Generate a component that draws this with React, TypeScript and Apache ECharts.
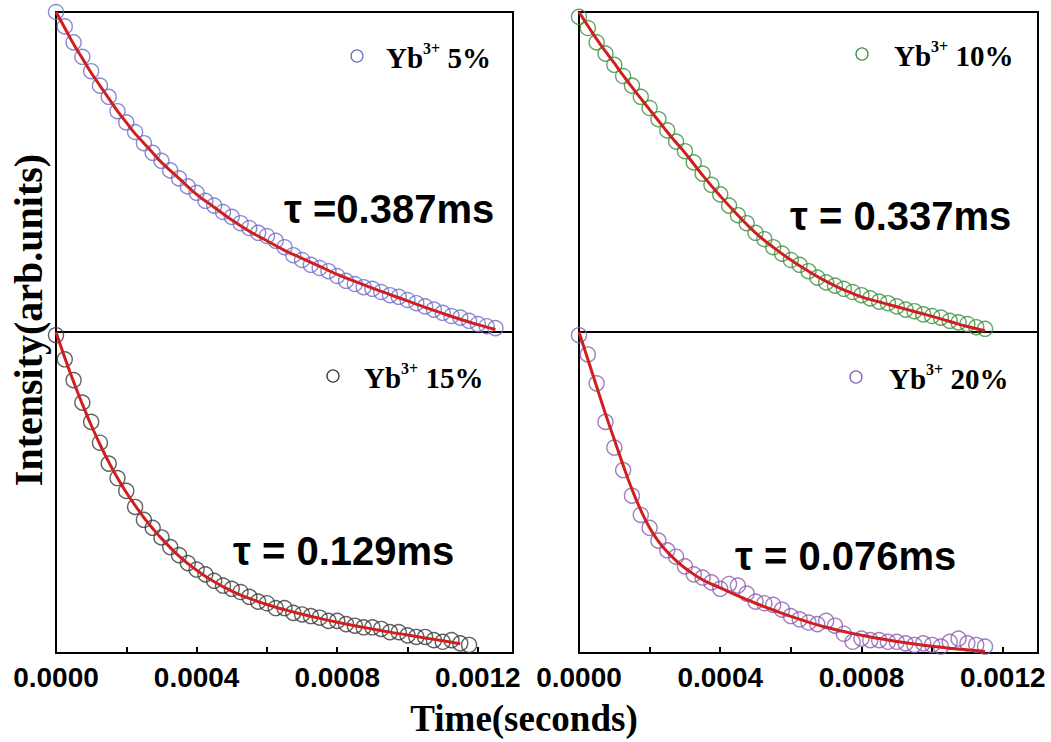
import React, { useEffect, useRef } from "react";
import * as echarts from "echarts";

// Sampling grid of the measured decay (microseconds)
const TIME_US = [
  0, 25, 50, 75, 100, 125, 150, 175, 200, 225, 250, 275, 300, 325, 350, 375, 400,
  425, 450, 475, 500, 525, 550, 575, 600, 625, 650, 675, 700, 725, 750, 775, 800,
  825, 850, 875, 900, 925, 950, 975, 1000, 1025, 1050, 1075, 1100, 1125, 1150,
  1175, 1200, 1225, 1250,
];

// Measured (normalized) intensities
const DATA_5 = [
  1.0, 0.955, 0.905, 0.86, 0.815, 0.77, 0.735, 0.69, 0.655, 0.625, 0.59, 0.56,
  0.535, 0.505, 0.48, 0.455, 0.435, 0.41, 0.395, 0.375, 0.36, 0.34, 0.325, 0.31,
  0.3, 0.285, 0.265, 0.24, 0.225, 0.21, 0.2, 0.19, 0.175, 0.16, 0.15, 0.14, 0.135,
  0.125, 0.115, 0.11, 0.1, 0.09, 0.08, 0.07, 0.06, 0.05, 0.045, 0.035, 0.025,
  0.018, 0.012,
];
const DATA_10 = [
  0.985, 0.95, 0.905, 0.87, 0.835, 0.8, 0.77, 0.735, 0.7, 0.665, 0.63, 0.595,
  0.565, 0.53, 0.495, 0.46, 0.43, 0.395, 0.365, 0.34, 0.31, 0.29, 0.265, 0.245,
  0.225, 0.21, 0.19, 0.17, 0.155, 0.145, 0.135, 0.125, 0.115, 0.105, 0.095, 0.09,
  0.08, 0.07, 0.065, 0.055, 0.05, 0.045, 0.035, 0.03, 0.025, 0.015, 0.01,
];
const DATA_15 = [
  0.99, 0.915, 0.85, 0.78, 0.72, 0.655, 0.59, 0.545, 0.505, 0.455, 0.415, 0.39,
  0.36, 0.33, 0.305, 0.28, 0.26, 0.245, 0.225, 0.21, 0.2, 0.19, 0.175, 0.16, 0.155,
  0.14, 0.14, 0.125, 0.12, 0.115, 0.11, 0.1, 0.1, 0.09, 0.085, 0.08, 0.08, 0.075,
  0.065, 0.065, 0.055, 0.05, 0.05, 0.04, 0.035, 0.04, 0.03, 0.025,
];
const DATA_20 = [
  0.99, 0.93, 0.84, 0.72, 0.64, 0.57, 0.49, 0.43, 0.39, 0.35, 0.32, 0.3, 0.27,
  0.245, 0.235, 0.22, 0.2, 0.215, 0.21, 0.185, 0.16, 0.155, 0.15, 0.135, 0.115,
  0.105, 0.095, 0.09, 0.1, 0.085, 0.06, 0.035, 0.045, 0.04, 0.04, 0.035, 0.035,
  0.03, 0.025, 0.03, 0.025, 0.02, 0.035, 0.045, 0.03, 0.025, 0.02,
];

// Exponential fit curves
const FIT_TIME_US = [
  0, 25, 50, 75, 100, 125, 150, 175, 200, 225, 250, 275, 300, 350, 400, 450, 500,
  550, 600, 650, 700, 750, 800, 850, 900, 950, 1000, 1050, 1100, 1150, 1200, 1250,
];
const FIT_5 = [
  1.0, 0.95, 0.9, 0.855, 0.81, 0.77, 0.73, 0.69, 0.655, 0.62, 0.59, 0.56, 0.53,
  0.48, 0.43, 0.39, 0.35, 0.315, 0.285, 0.255, 0.23, 0.205, 0.18, 0.158, 0.137,
  0.117, 0.097, 0.077, 0.058, 0.04, 0.023, 0.008,
];
const FIT_10 = [
  1.0, 0.957, 0.915, 0.877, 0.84, 0.802, 0.765, 0.73, 0.695, 0.66, 0.625, 0.592,
  0.56, 0.49, 0.425, 0.365, 0.31, 0.265, 0.225, 0.19, 0.158, 0.132, 0.11, 0.094,
  0.079, 0.064, 0.049, 0.033, 0.017, 0.004,
];
const FIT_15 = [
  1.0, 0.92, 0.845, 0.775, 0.71, 0.65, 0.595, 0.545, 0.5, 0.46, 0.422, 0.388,
  0.357, 0.302, 0.258, 0.222, 0.193, 0.17, 0.151, 0.135, 0.121, 0.108, 0.096,
  0.085, 0.075, 0.065, 0.056, 0.047, 0.038, 0.029,
];
const FIT_20 = [
  1.0, 0.915, 0.83, 0.745, 0.665, 0.585, 0.51, 0.445, 0.39, 0.348, 0.315, 0.288,
  0.265, 0.228, 0.203, 0.178, 0.155, 0.134, 0.114, 0.096, 0.08, 0.067, 0.055,
  0.045, 0.036, 0.028, 0.021, 0.015, 0.01, 0.005,
];

const SAMPLES = ["5%", "10%", "15%", "20%"];
const LIFETIMES = ["τ =0.387ms", "τ = 0.337ms", "τ = 0.129ms", "τ = 0.076ms"];
const X_TICKS = [0, 0.0004, 0.0008, 0.0012];

const SERIF = "'Liberation Serif', 'Times New Roman', serif";
const SANS = "'Liberation Sans', Arial, sans-serif";

export default function App() {
  const ref = useRef<HTMLDivElement>(null);

  useEffect(() => {
    if (!ref.current) return;
    const chart = echarts.init(ref.current, undefined, { renderer: "svg" });

    const grids = [
      { left: 56, top: 12, width: 457, height: 320 },
      { left: 579, top: 12, width: 459, height: 320 },
      { left: 56, top: 332, width: 457, height: 321 },
      { left: 579, top: 332, width: 459, height: 321 },
    ];
    const dataSets = [DATA_5, DATA_10, DATA_15, DATA_20];
    const fitSets = [FIT_5, FIT_10, FIT_15, FIT_20];
    const colors = ["#6e6ec8", "#3f8f3f", "#3a3a3a", "#8c5caf"];

    const isTick = (v: number) =>
      X_TICKS.some((t) => Math.abs(t - v) < 1e-9);

    const xAxes = grids.map((_, i) => {
      const bottom = i >= 2;
      return {
        type: "value",
        gridIndex: i,
        min: 0,
        max: 0.0013,
        interval: 0.0004,
        axisLine: { show: true, lineStyle: { color: "#000", width: 2 } },
        axisTick: {
          show: bottom,
          inside: true,
          length: 6,
          lineStyle: { color: "#000", width: 2 },
        },
        minorTick: {
          show: bottom,
          splitNumber: 2,
          length: 6,
          lineStyle: { color: "#000", width: 2 },
        },
        axisLabel: {
          show: bottom,
          showMaxLabel: false,
          margin: 10,
          color: "#000",
          fontFamily: SANS,
          fontWeight: "bold",
          fontSize: 28,
          formatter: (v: number) => (isTick(v) ? v.toFixed(4) : ""),
        },
        splitLine: { show: false },
      };
    });
    const yAxes = grids.map((_, i) => ({
      type: "value",
      gridIndex: i,
      min: 0,
      max: 1,
      axisLine: { show: true, lineStyle: { color: "#000", width: 2 } },
      axisTick: { show: false },
      axisLabel: { show: false },
      splitLine: { show: false },
    }));

    const series: any[] = [];
    dataSets.forEach((vals, i) => {
      series.push({
        type: "scatter",
        xAxisIndex: i,
        yAxisIndex: i,
        clip: false,
        symbol: "circle",
        symbolSize: 15,
        itemStyle: {
          color: "rgba(0,0,0,0)",
          borderColor: colors[i],
          borderWidth: 1.4,
        },
        z: 2,
        data: vals.map((v, k) => [TIME_US[k] * 1e-6, v]),
      });
    });
    fitSets.forEach((vals, i) => {
      series.push({
        type: "line",
        xAxisIndex: i,
        yAxisIndex: i,
        smooth: true,
        showSymbol: false,
        lineStyle: { color: "#d01f1f", width: 3 },
        z: 3,
        data: vals.map((v, k) => [FIT_TIME_US[k] * 1e-6, v]),
      });
    });

    const legendPos = [
      { cx: 357, cy: 56, tx: 386 },
      { cx: 862, cy: 54, tx: 894 },
      { cx: 333, cy: 376, tx: 364 },
      { cx: 856, cy: 377, tx: 889 },
    ];
    const tauPos = [
      { x: 284, y: 209 },
      { x: 790, y: 216 },
      { x: 233, y: 551 },
      { x: 735, y: 556 },
    ];

    const graphic: any[] = [];
    legendPos.forEach((p, i) => {
      graphic.push({
        type: "circle",
        shape: { cx: p.cx, cy: p.cy, r: 6 },
        style: { fill: "none", stroke: colors[i], lineWidth: 1.3 },
        z: 10,
      });
      graphic.push({
        type: "text",
        x: p.tx,
        y: p.cy,
        style: {
          text: `{m|Yb}{s|3+}{m| ${SAMPLES[i]}}`,
          verticalAlign: "middle",
          align: "left",
          rich: {
            m: {
              fontFamily: SERIF,
              fontWeight: "bold",
              fontSize: 29,
              fill: "#000",
              color: "#000",
              verticalAlign: "bottom",
              lineHeight: 32,
            },
            s: {
              fontFamily: SERIF,
              fontWeight: "bold",
              fontSize: 16,
              fill: "#000",
              color: "#000",
              verticalAlign: "top",
              lineHeight: 16,
            },
          },
        },
        z: 10,
      });
    });
    tauPos.forEach((p, i) => {
      graphic.push({
        type: "text",
        x: p.x,
        y: p.y,
        style: {
          text: LIFETIMES[i],
          fontFamily: SANS,
          fontWeight: "bold",
          fontSize: 40,
          fill: "#000",
          align: "left",
          verticalAlign: "middle",
        },
        z: 10,
      });
    });
    graphic.push({
      type: "text",
      x: 28,
      y: 320,
      rotation: Math.PI / 2,
      style: {
        text: "Intensity(arb.units)",
        fontFamily: SERIF,
        fontWeight: "bold",
        fontSize: 40,
        fill: "#000",
        align: "center",
        verticalAlign: "middle",
      },
    });
    graphic.push({
      type: "text",
      x: 524,
      y: 718,
      style: {
        text: "Time(seconds)",
        fontFamily: SERIF,
        fontWeight: "bold",
        fontSize: 37,
        fill: "#000",
        align: "center",
        verticalAlign: "middle",
      },
    });

    chart.setOption({
      animation: false,
      backgroundColor: "#fff",
      grid: grids.map((g) => ({
        ...g,
        show: true,
        borderColor: "#000",
        borderWidth: 2,
        backgroundColor: "rgba(0,0,0,0)",
      })),
      xAxis: xAxes,
      yAxis: yAxes,
      series,
      graphic,
    });

    return () => chart.dispose();
  }, []);

  return (
    <div
      ref={ref}
      style={{ position: "fixed", left: 0, top: 0, width: 1051, height: 742 }}
    />
  );
}
